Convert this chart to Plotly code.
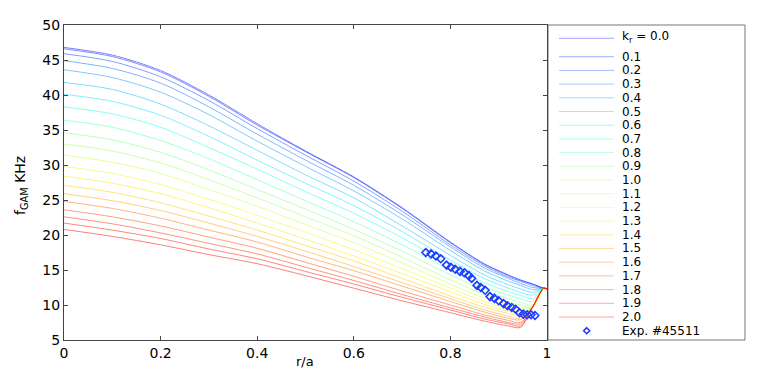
import plotly.graph_objects as go

r_grid = [0.0, 0.1, 0.2, 0.3, 0.4, 0.5, 0.6, 0.7, 0.8, 0.87, 0.92, 0.945, 0.97, 0.993, 1.0]

kr_values = [0.0, 0.1, 0.2, 0.3, 0.4, 0.5, 0.6, 0.7, 0.8, 0.9, 1.0,
             1.1, 1.2, 1.3, 1.4, 1.5, 1.6, 1.7, 1.8, 1.9, 2.0]

# f_GAM (kHz), one row per k_r
f_gam = [
    [46.8, 45.7, 43.5, 40.0, 35.9, 32.0, 28.3, 23.9, 19.0, 15.9, 14.3, 13.6, 13.0, 12.4, 12.3],
    [46.6, 45.5, 43.3, 39.8, 35.7, 31.9, 28.2, 23.8, 18.9, 15.8, 14.2, 13.5, 13.0, 12.4, 12.3],
    [45.9, 44.8, 42.6, 39.2, 35.2, 31.4, 27.7, 23.4, 18.6, 15.6, 14.0, 13.4, 12.8, 12.4, 12.3],
    [44.9, 43.8, 41.7, 38.3, 34.4, 30.7, 27.1, 22.9, 18.3, 15.3, 13.8, 13.1, 12.5, 12.4, 12.3],
    [43.6, 42.5, 40.4, 37.2, 33.4, 29.8, 26.3, 22.3, 17.8, 14.9, 13.4, 12.8, 12.2, 12.4, 12.3],
    [41.8, 40.8, 38.7, 35.6, 32.1, 28.6, 25.3, 21.3, 17.1, 14.3, 12.9, 12.3, 11.8, 12.4, 12.3],
    [40.1, 39.1, 37.1, 34.1, 30.7, 27.4, 24.2, 20.5, 16.4, 13.8, 12.4, 11.8, 11.4, 12.4, 12.3],
    [38.3, 37.3, 35.4, 32.5, 29.4, 26.2, 23.1, 19.6, 15.7, 13.2, 11.9, 11.4, 10.9, 12.4, 12.3],
    [36.4, 35.4, 33.5, 30.9, 27.9, 24.9, 21.9, 18.6, 15.0, 12.6, 11.4, 10.9, 10.5, 12.4, 12.3],
    [34.6, 33.6, 31.8, 29.3, 26.5, 23.7, 20.8, 17.7, 14.3, 12.1, 10.9, 10.4, 10.0, 12.4, 12.3],
    [33.0, 32.0, 30.3, 27.9, 25.3, 22.6, 19.9, 16.8, 13.6, 11.5, 10.4, 10.0, 9.7, 12.4, 12.3],
    [31.4, 30.4, 28.8, 26.5, 24.1, 21.5, 18.9, 16.0, 13.0, 11.0, 10.0, 9.6, 9.7, 12.4, 12.3],
    [29.8, 28.8, 27.2, 25.1, 22.8, 20.4, 17.9, 15.2, 12.4, 10.5, 9.5, 9.2, 9.7, 12.4, 12.3],
    [28.4, 27.4, 25.9, 23.9, 21.7, 19.4, 17.0, 14.5, 11.9, 10.1, 9.1, 8.8, 9.7, 12.4, 12.3],
    [27.1, 26.1, 24.6, 22.7, 20.7, 18.5, 16.3, 13.8, 11.3, 9.7, 8.8, 8.4, 9.7, 12.4, 12.3],
    [25.9, 24.9, 23.5, 21.7, 19.8, 17.7, 15.5, 13.2, 10.9, 9.3, 8.4, 8.1, 9.7, 12.4, 12.3],
    [24.8, 23.8, 22.4, 20.7, 19.0, 16.9, 14.9, 12.7, 10.5, 9.0, 8.1, 7.9, 9.7, 12.4, 12.3],
    [23.6, 22.6, 21.3, 19.7, 18.1, 16.1, 14.1, 12.0, 10.0, 8.6, 7.8, 7.5, 9.7, 12.4, 12.3],
    [22.6, 21.6, 20.3, 18.8, 17.3, 15.4, 13.5, 11.5, 9.6, 8.3, 7.5, 7.3, 9.7, 12.4, 12.3],
    [21.7, 20.7, 19.5, 18.0, 16.6, 14.8, 13.0, 11.1, 9.3, 8.0, 7.3, 7.0, 9.7, 12.4, 12.3],
    [20.8, 19.8, 18.6, 17.2, 15.9, 14.2, 12.4, 10.6, 8.9, 7.7, 7.0, 6.8, 9.7, 12.4, 12.3],
]

# experimental points, shot #45511
exp_r = [0.749, 0.760, 0.770, 0.780, 0.792, 0.801, 0.810, 0.820, 0.829, 0.838, 0.844, 0.855, 0.863,
         0.872, 0.882, 0.891, 0.900, 0.910, 0.918, 0.927, 0.935, 0.943, 0.951, 0.959, 0.967, 0.975]
exp_f = [17.5, 17.3, 17.0, 16.6, 15.7, 15.4, 15.1, 14.8, 14.6, 14.2, 13.8, 12.8, 12.5,
         12.1, 11.2, 10.95, 10.6, 10.2, 9.9, 9.65, 9.4, 8.9, 8.7, 8.6, 8.6, 8.5]

# jet-like colours, blue -> red
colors = ['rgb(0,0,255)', 'rgb(0,30,255)', 'rgb(0,70,255)', 'rgb(0,110,255)', 'rgb(0,150,255)',
          'rgb(0,190,255)', 'rgb(0,230,255)', 'rgb(20,255,235)', 'rgb(70,255,185)', 'rgb(120,255,135)',
          'rgb(160,255,95)', 'rgb(200,255,55)', 'rgb(235,255,20)', 'rgb(255,235,0)', 'rgb(255,200,0)',
          'rgb(255,160,0)', 'rgb(255,110,0)', 'rgb(255,70,0)', 'rgb(255,40,0)', 'rgb(255,15,0)',
          'rgb(255,0,0)']

FONT = "DejaVu Sans"
OFF = 8  # browser body margin
W, H = 763 - OFF, 382 - OFF
ML, MR, MT, MB = 64 - OFF, 216, 25 - OFF, 42
PW, PH = W - ML - MR, H - MT - MB

fig = go.Figure()

for kr, row, c in zip(kr_values, f_gam, colors):
    fig.add_trace(go.Scatter(x=r_grid, y=row, mode='lines', opacity=0.5,
                             line=dict(color=c, width=1, shape='spline', smoothing=0.8),
                             name=f"{kr:.1f}", showlegend=False))

fig.add_trace(go.Scatter(x=exp_r, y=exp_f, mode='markers', name='Exp. #45511', showlegend=False,
                         marker=dict(symbol='diamond-open', size=6, color='rgb(30,60,255)',
                                     line=dict(width=1.6, color='rgb(30,60,255)'))))

# window pixel -> paper coords
def px_x(px):
    return (px - OFF - ML) / PW

def px_y(py):
    return (MT + OFF + PH - py) / PH

# hand-built legend box (plotly legend rows are too tall to fit 22 entries)
shapes = [dict(type='rect', xref='paper', yref='paper', x0=px_x(548), x1=px_x(745), y0=0, y1=1,
               line=dict(color='#777', width=1), fillcolor='white', layer='below')]
annotations = []
for i, (kr, c) in enumerate(zip(kr_values, colors)):
    ly = 38.3 if i == 0 else 56.7 + 13.7 * (i - 1)
    shapes.append(dict(type='line', xref='paper', yref='paper', x0=px_x(559), x1=px_x(614),
                       y0=px_y(ly), y1=px_y(ly), line=dict(color=c, width=1), opacity=0.35))
    label = "k<sub>r</sub> = 0.0" if i == 0 else f"{kr:.1f}"
    annotations.append(dict(xref='paper', yref='paper', x=px_x(620), y=px_y(ly - 1.5 if i == 0 else ly),
                            text=label, showarrow=False, xanchor='left', yanchor='middle',
                            height=12, font=dict(family=FONT, size=12, color='black')))
ey = 56.7 + 13.7 * 20
shapes.append(dict(type='path', xref='paper', yref='paper', xsizemode='pixel', ysizemode='pixel',
                   xanchor=px_x(586.7), yanchor=px_y(ey), path='M0,3 L3,0 L0,-3 L-3,0 Z',
                   line=dict(color='rgb(30,60,255)', width=1.6)))
annotations.append(dict(xref='paper', yref='paper', x=px_x(620), y=px_y(ey), text='Exp. #45511',
                        showarrow=False, xanchor='left', yanchor='middle', height=12,
                        font=dict(family=FONT, size=12, color='black')))

# axis titles
annotations.append(dict(xref='paper', yref='paper', x=px_x(305), y=px_y(361), text='r/a',
                        showarrow=False, xanchor='center', yanchor='middle',
                        font=dict(family=FONT, size=13, color='black')))
annotations.append(dict(xref='paper', yref='paper', x=px_x(21), y=px_y(186), text='f<sub>GAM</sub> KHz',
                        showarrow=False, xanchor='center', yanchor='middle', textangle=-90,
                        font=dict(family=FONT, size=14, color='black')))

axis_style = dict(showline=True, linecolor='#444', linewidth=1, mirror='allticks', ticks='inside',
                  ticklen=4, tickcolor='#444', showgrid=False, zeroline=False, automargin=False,
                  tickfont=dict(family=FONT, size=14, color='black'))

fig.update_xaxes(range=[0, 1], tickvals=[0, 0.2, 0.4, 0.6, 0.8, 1],
                 ticktext=['0', '0.2', '0.4', '0.6', '0.8', '1'], **axis_style)
fig.update_yaxes(range=[5, 50], tickvals=list(range(5, 51, 5)), **axis_style)

fig.update_layout(width=W, height=H, margin=dict(l=ML, r=MR, t=MT, b=MB),
                  plot_bgcolor='white', paper_bgcolor='white',
                  shapes=shapes, annotations=annotations)

fig.write_html("out.html")
